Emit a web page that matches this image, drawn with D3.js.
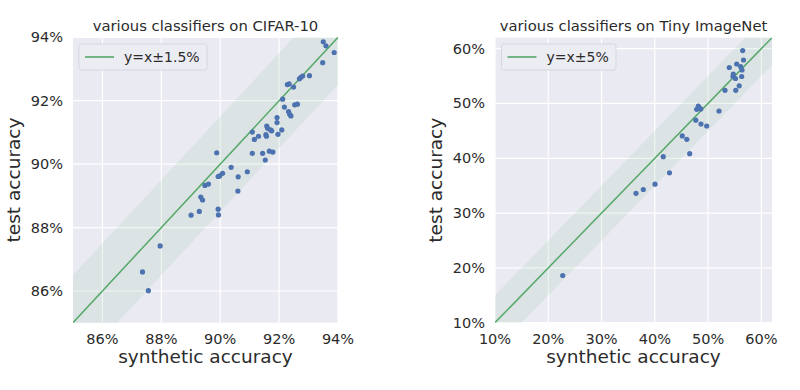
<!DOCTYPE html>
<html>
<head>
<meta charset="utf-8">
<script src="https://cdn.jsdelivr.net/npm/d3@7"></script>
<style>
  html, body { margin: 0; padding: 0; background: #fff; }
  svg { display: block; font-family: "DejaVu Sans", sans-serif; }
</style>
</head>
<body>
<div id="content"></div>
<script>
// values (percent)
const cifarSynthetic = [93.50, 93.59, 93.87, 93.48, 93.03, 92.80, 92.74, 92.69, 92.28, 92.34,
  92.49, 92.12, 92.18, 92.32, 92.36, 92.40, 92.53, 92.62, 92.09, 91.93,
  91.93, 91.96, 91.71, 91.75, 91.58, 91.61, 91.55, 91.57, 91.30, 91.16,
  91.09, 91.09, 91.44, 91.53, 91.67, 91.79, 90.92, 90.61, 90.60, 90.37,
  90.08, 89.98, 89.93, 89.88, 89.93, 89.94, 89.60, 89.48, 89.34, 89.40,
  89.29, 89.01, 87.96, 87.36, 87.56];
const cifarTest = [93.86, 93.73, 93.52, 93.20, 92.79, 92.78, 92.74, 92.69, 92.51, 92.53,
  92.43, 92.05, 91.80, 91.66, 91.57, 91.52, 91.87, 91.89, 91.08, 91.47,
  91.31, 90.94, 91.08, 91.05, 91.20, 91.13, 90.93, 90.88, 90.88, 90.78,
  91.01, 90.34, 90.34, 90.13, 90.41, 90.38, 89.76, 89.60, 89.15, 89.90,
  89.71, 89.63, 89.61, 90.36, 88.58, 88.40, 89.37, 89.33, 88.96, 88.87,
  88.51, 88.39, 87.42, 86.60, 86.01];

const tinySynthetic = [56.50, 56.65, 53.98, 55.37, 56.12, 56.37, 54.73, 54.68, 55.15, 56.31,
  55.84, 55.20, 53.18, 52.05, 48.16, 48.35, 47.86, 48.62, 47.70, 48.67,
  49.74, 45.16, 46.01, 46.55, 41.59, 42.76, 40.04, 37.84, 36.47, 22.71];
const tinyTest = [59.66, 57.93, 56.56, 57.20, 56.71, 56.11, 55.38, 54.92, 54.56, 54.92,
  53.22, 52.40, 52.40, 48.63, 49.54, 49.17, 48.94, 49.00, 46.95, 46.25,
  45.89, 44.07, 43.46, 40.84, 40.29, 37.35, 35.27, 34.30, 33.61, 18.61];

const cifarTicks = [86, 88, 90, 92, 94];
const tinyTicks = [10, 20, 30, 40, 50, 60];
const cifarDomain = [85, 94];
const tinyDomain = [10, 62];
const cifarBand = 1.5;
const tinyBand = 5;
const titles = ['various classifiers on CIFAR-10', 'various classifiers on Tiny ImageNet'];
const legendLabels = ['y=x\u00b11.5%', 'y=x\u00b15%'];

const W = 800, H = 390;
const bg = '#EAEAF2', green = '#55A868', blue = '#4C72B0', ink = '#2b2b2b';

const svg = d3.select('#content').append('svg')
  .attr('width', W).attr('height', H)
  .attr('viewBox', [0, 0, W, H]);

function panel (idx, xs, ys, domain, ticks, band, box, legendBox) {
  const x = d3.scaleLinear().domain(domain).range([box.left, box.right]);
  const y = d3.scaleLinear().domain(domain).range([box.bottom, box.top]);
  const g = svg.append('g');

  const clipId = 'clip' + idx;
  g.append('clipPath').attr('id', clipId).append('rect')
    .attr('x', box.left).attr('y', box.top)
    .attr('width', box.right - box.left).attr('height', box.bottom - box.top);

  g.append('rect')
    .attr('x', box.left).attr('y', box.top)
    .attr('width', box.right - box.left).attr('height', box.bottom - box.top)
    .attr('fill', bg);

  // grid
  g.selectAll('.vg').data(ticks).join('line')
    .attr('x1', d => x(d)).attr('x2', d => x(d))
    .attr('y1', box.top).attr('y2', box.bottom)
    .attr('stroke', '#fff').attr('stroke-width', 1.2);
  g.selectAll('.hg').data(ticks).join('line')
    .attr('y1', d => y(d)).attr('y2', d => y(d))
    .attr('x1', box.left).attr('x2', box.right)
    .attr('stroke', '#fff').attr('stroke-width', 1.2);

  const inner = g.append('g').attr('clip-path', `url(#${clipId})`);

  // y = x +/- band
  const ext = [domain[0] - band, domain[1] + band];
  const area = d3.area().x(d => x(d)).y0(d => y(d - band)).y1(d => y(d + band));
  inner.append('path').datum(ext).attr('d', area)
    .attr('fill', green).attr('fill-opacity', 0.1);

  inner.append('line')
    .attr('x1', x(domain[0])).attr('y1', y(domain[0]))
    .attr('x2', x(domain[1])).attr('y2', y(domain[1]))
    .attr('stroke', green).attr('stroke-width', 1.5);

  inner.selectAll('circle').data(xs.map((v, i) => [v, ys[i]])).join('circle')
    .attr('cx', d => x(d[0])).attr('cy', d => y(d[1]))
    .attr('r', 2.6).attr('fill', blue);

  // tick labels
  g.selectAll('.xt').data(ticks).join('text')
    .attr('x', d => x(d)).attr('y', 344)
    .attr('text-anchor', 'middle')
    .style('font-size', '14.5px').attr('fill', ink)
    .text(d => d + '%');
  g.selectAll('.yt').data(ticks).join('text')
    .attr('x', box.left - 10).attr('y', d => y(d))
    .attr('text-anchor', 'end').attr('dominant-baseline', 'central')
    .style('font-size', '14.5px').attr('fill', ink)
    .text(d => d + '%');

  const cx = (box.left + box.right) / 2;
  const cy = (box.top + box.bottom) / 2;

  g.append('text')
    .attr('x', cx).attr('y', 31)
    .attr('text-anchor', 'middle')
    .style('font-size', '14.8px').attr('fill', ink)
    .text(titles[idx]);

  g.append('text')
    .attr('x', cx).attr('y', 363)
    .attr('text-anchor', 'middle')
    .style('font-size', '18.5px').attr('fill', ink)
    .text('synthetic accuracy');

  g.append('text')
    .attr('transform', `translate(${box.left - 53},${cy}) rotate(-90)`)
    .attr('text-anchor', 'middle')
    .style('font-size', '18.5px').attr('fill', ink)
    .text('test accuracy');

  // legend
  const lg = g.append('g');
  lg.append('rect')
    .attr('x', legendBox.x).attr('y', legendBox.y)
    .attr('width', legendBox.w).attr('height', 26)
    .attr('rx', 2.5)
    .attr('fill', '#ECECF3').attr('stroke', '#D2D2DA').attr('stroke-width', 0.8);
  lg.append('line')
    .attr('x1', legendBox.x + 6).attr('x2', legendBox.x + 35)
    .attr('y1', legendBox.y + 13).attr('y2', legendBox.y + 13)
    .attr('stroke', green).attr('stroke-width', 2).attr('stroke-opacity', 0.8);
  lg.append('text')
    .attr('x', legendBox.x + 45).attr('y', legendBox.y + 18)
    .style('font-size', '14px').attr('fill', ink)
    .text(legendLabels[idx]);
}

panel(0, cifarSynthetic, cifarTest, cifarDomain, cifarTicks, cifarBand,
  { left: 73, right: 338, top: 37.3, bottom: 322.7 }, { x: 79, y: 44, w: 128 });
panel(1, tinySynthetic, tinyTest, tinyDomain, tinyTicks, tinyBand,
  { left: 495, right: 772, top: 37.7, bottom: 322.7 }, { x: 501.5, y: 44, w: 114.5 });
</script>
</body>
</html>
